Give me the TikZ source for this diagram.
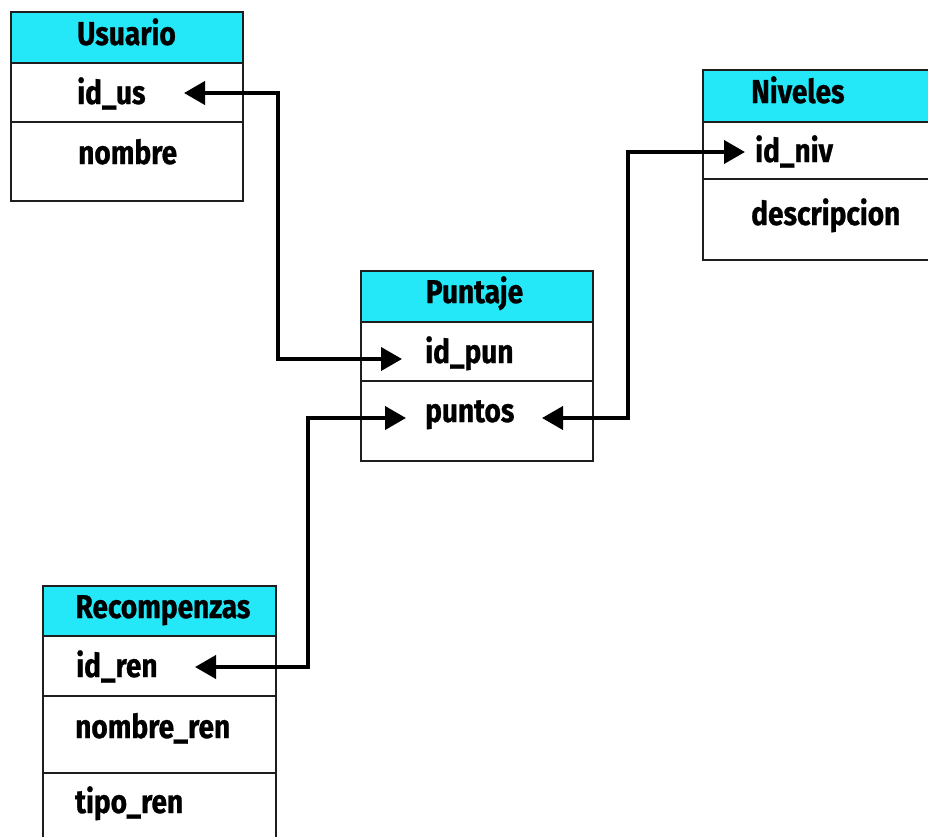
\documentclass[tikz,border=0pt]{standalone}
\usepackage{fontspec}
\newfontfamily\tblfont{Fira Sans}[FakeStretch=0.85, FakeBold=0.8]
\usetikzlibrary{arrows.meta}
\definecolor{hdr}{RGB}{36,232,248}
\definecolor{edge}{RGB}{30,30,30}
\begin{document}
\begin{tikzpicture}[x=1pt,y=-1pt,
  cell/.style={draw=edge, line width=2pt, fill=white, inner sep=0pt, anchor=north west},
  hcell/.style={cell, fill=hdr},
  lbl/.style={font=\tblfont\fontsize{33}{36}\selectfont\bfseries, inner sep=0pt, anchor=base west},
  hlbl/.style={font=\tblfont\fontsize{33}{36}\selectfont\bfseries, inner sep=0pt, anchor=base},
  conn/.style={line width=4pt, {Triangle[length=21pt,width=23pt]}-{Triangle[length=21pt,width=23pt]}}]
\useasboundingbox (0,0) rectangle (928,836);
\fill[white] (0,0) rectangle (928,836);

% Usuario
\node[hcell, minimum width=232pt, minimum height=51pt] (usH) at (10,11) {};
\node[cell, minimum width=232pt, minimum height=59pt] (usR1) at (10,62) {};
\node[cell, minimum width=232pt, minimum height=79pt] (usR2) at (10,121) {};
\node[hlbl] (usT) at (126.5,45) {Usuario};
\node[lbl] (idus) at (77,104) {id\_us};
\node[lbl] (nombre) at (78,164) {nombre};

% Puntaje
\node[hcell, minimum width=232pt, minimum height=51pt] (puH) at (360,270) {};
\node[cell, minimum width=232pt, minimum height=59pt] (puR1) at (360,321) {};
\node[cell, minimum width=232pt, minimum height=80pt] (puR2) at (360,380) {};
\node[hlbl] (puT) at (474.5,303) {Puntaje};
\node[lbl] (idpun) at (425,363) {id\_pun};
\node[lbl] (puntos) at (425,422) {puntos};

% Niveles
\node[hcell, minimum width=232pt, minimum height=52pt] (niH) at (702,69) {};
\node[cell, minimum width=232pt, minimum height=57pt] (niR1) at (702,121) {};
\node[cell, minimum width=232pt, minimum height=81pt] (niR2) at (702,178) {};
\node[lbl] (niT) at (751,103) {Niveles};
\node[lbl] (idniv) at (755,162) {id\_niv};
\node[lbl] (desc) at (751,225) {descripcion};

% Recompenzas
\node[hcell, minimum width=233pt, minimum height=50pt] (reH) at (42,585) {};
\node[cell, minimum width=233pt, minimum height=60pt] (reR1) at (42,635) {};
\node[cell, minimum width=233pt, minimum height=77pt] (reR2) at (42,695) {};
\node[cell, minimum width=233pt, minimum height=80pt] (reR3) at (42,772) {};
\node[hlbl] (reT) at (163,618) {Recompenzas};
\node[lbl] (idren) at (76,677) {id\_ren};
\node[lbl] (nomren) at (75,738) {nombre\_ren};
\node[lbl] (tipren) at (75,813) {tipo\_ren};

% connector end points
\coordinate (cA1) at (184,93);
\coordinate (cA2) at (402,359);
\coordinate (cB1) at (406,418);
\coordinate (cB2) at (195,667);
\coordinate (cC1) at (542,418);
\coordinate (cC2) at (745,152);

\draw[conn] (cA1) -- (278,93) -- (278,359) -- (cA2);
\draw[conn] (cB1) -- (308,418) -- (308,667) -- (cB2);
\draw[conn] (cC1) -- (628,418) -- (628,152) -- (cC2);
\end{tikzpicture}
\end{document}
